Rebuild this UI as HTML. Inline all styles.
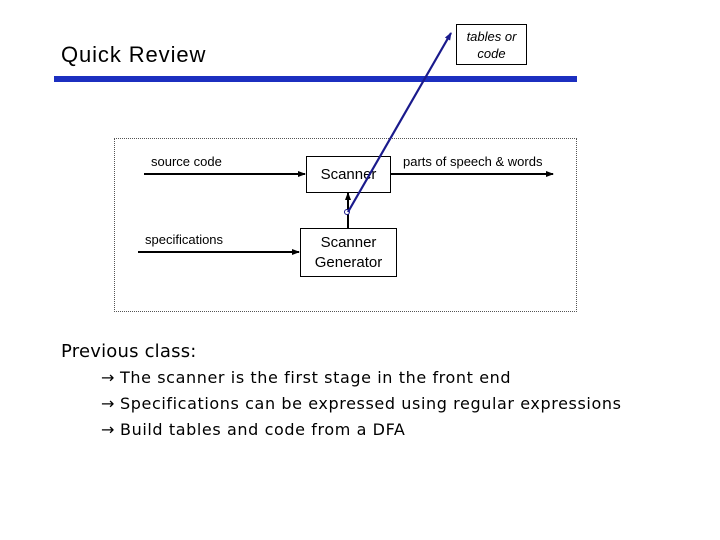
<!DOCTYPE html>
<html><head><style>
body{margin:0;width:720px;height:540px;background:#fff;position:relative;overflow:hidden;font-family:"Liberation Sans",sans-serif}
.t{position:absolute;white-space:nowrap}
.b{position:absolute;white-space:nowrap;font-size:16px;font-family:'DejaVu Sans',sans-serif;letter-spacing:0.6px}
</style></head><body>
<div class="t" style="left:61px;top:42px;font-size:22px;letter-spacing:0.9px">Quick Review</div>
<div style="position:absolute;left:54px;top:76px;width:523px;height:6px;background:#1c2fc0"></div>
<div style="position:absolute;left:456px;top:24px;width:71px;height:41px;border:1px solid #000;box-sizing:border-box;font-style:italic;font-size:13px;text-align:center;line-height:17px;padding-top:3px">tables or<br>code</div>
<div style="position:absolute;left:114px;top:138px;width:463px;height:174px;border:1px dotted #555;box-sizing:border-box"></div>
<div style="position:absolute;left:306px;top:156px;width:85px;height:37px;border:1px solid #000;box-sizing:border-box;font-size:15px;text-align:center;line-height:35px">Scanner</div>
<div style="position:absolute;left:300px;top:228px;width:97px;height:49px;border:1px solid #000;box-sizing:border-box;font-size:15px;text-align:center;line-height:20px;padding-top:4px">Scanner<br>Generator</div>
<div class="t" style="left:151px;top:154px;font-size:13px">source code</div>
<div class="t" style="left:145px;top:232px;font-size:13px">specifications</div>
<div class="t" style="left:403px;top:154px;font-size:13px">parts of speech &amp; words</div>
<svg width="720" height="540" style="position:absolute;left:0;top:0">
<defs><marker id="a" markerUnits="userSpaceOnUse" markerWidth="8" markerHeight="6" refX="7" refY="3" orient="auto"><path d="M0,0L8,3L0,6z" fill="#000"/></marker>
<marker id="b" markerUnits="userSpaceOnUse" markerWidth="8" markerHeight="6" refX="7" refY="3" orient="auto"><path d="M0,0L8,3L0,6z" fill="#1a1a8c"/></marker></defs>
<line x1="144" y1="174" x2="305" y2="174" stroke="#000" stroke-width="2" marker-end="url(#a)"/>
<line x1="138" y1="252" x2="299" y2="252" stroke="#000" stroke-width="2" marker-end="url(#a)"/>
<line x1="391" y1="174" x2="553" y2="174" stroke="#000" stroke-width="2" marker-end="url(#a)"/>
<line x1="348" y1="228" x2="348" y2="193" stroke="#000" stroke-width="2" marker-end="url(#a)"/>
<circle cx="347" cy="212" r="2.5" fill="#fff" stroke="#1a1a8c" stroke-width="1"/>
<line x1="348" y1="212" x2="451" y2="33" stroke="#1a1a8c" stroke-width="2.2" marker-end="url(#b)"/>
</svg>
<div class="t" style="left:61px;top:341px;font-size:18px;font-family:'DejaVu Sans',sans-serif;letter-spacing:0.2px">Previous class:</div>
<div class="b" style="left:101px;top:368px">→</div><div class="b" style="left:120px;top:368px">The scanner is the first stage in the front end</div>
<div class="b" style="left:101px;top:394px">→</div><div class="b" style="left:120px;top:394px">Specifications can be expressed using regular expressions</div>
<div class="b" style="left:101px;top:420px">→</div><div class="b" style="left:120px;top:420px">Build tables and code from a DFA</div>
</body></html>
